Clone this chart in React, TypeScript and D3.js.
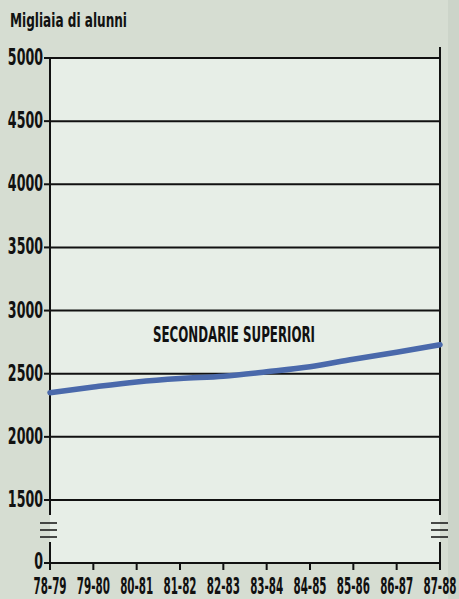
import React from "react";
import * as d3 from "d3";

const categories = ["78-79", "79-80", "80-81", "81-82", "82-83", "83-84", "84-85", "85-86", "86-87", "87-88"];
const values = [2350, 2395, 2435, 2462, 2480, 2515, 2555, 2615, 2670, 2730];
const yTicks = [0, 1500, 2000, 2500, 3000, 3500, 4000, 4500, 5000];
const gridValues = [1500, 2000, 2500, 3000, 3500, 4000, 4500, 5000];
const seriesLabel = "SECONDARIE SUPERIORI";
const title = "Migliaia di alunni";

const W = 459;
const H = 599;
const left = 50;
const right = 440;
const font = "'DejaVu Sans Condensed', 'DejaVu Sans', sans-serif";

export default function App() {
  const x = d3.scalePoint<string>().domain(categories).range([left, right]);
  const y = d3.scaleLinear().domain([0, 1500, 5000]).range([563, 500, 58]);
  const line = d3
    .line<number>()
    .x((_, i) => x(categories[i]) as number)
    .y((d) => y(d))
    .curve(d3.curveMonotoneX);

  const breakYs = [523, 530, 537];
  const y0 = y(0);

  return (
    <svg
      width={W}
      height={H}
      style={{ position: "absolute", left: 0, top: 0 }}
      fontFamily={font}
    >
      <rect x={0} y={0} width={W} height={H} fill="#d6ddd2" />
      <rect x={448} y={0} width={W - 448} height={H} fill="#ccd4c9" />
      <rect x={left} y={y(5000)} width={right - left} height={y0 - y(5000)} fill="#e7eee7" />
      <text x={10} y={27} fontSize={20} fontWeight="bold" textLength={117} lengthAdjust="spacingAndGlyphs" fill="#111">
        {title}
      </text>
      {gridValues.map((v) => (
        <line key={v} x1={left} x2={right} y1={y(v)} y2={y(v)} stroke="#111" strokeWidth={2} />
      ))}
      {/* left axis */}
      <line x1={left} x2={left} y1={y(5000)} y2={515} stroke="#111" strokeWidth={2} />
      <line x1={left} x2={left} y1={542} y2={y0} stroke="#111" strokeWidth={2} />
      {/* right axis */}
      <line x1={right} x2={right} y1={47} y2={515} stroke="#111" strokeWidth={2} />
      <line x1={right} x2={right} y1={542} y2={y0} stroke="#111" strokeWidth={2} />
      {breakYs.map((b) => (
        <g key={b}>
          <line x1={left - 10} x2={left + 7} y1={b} y2={b} stroke="#111" strokeWidth={1.5} />
          <line x1={right - 9} x2={right + 8} y1={b} y2={b} stroke="#111" strokeWidth={1.5} />
        </g>
      ))}
      {/* bottom axis */}
      <line x1={left} x2={right} y1={y0} y2={y0} stroke="#111" strokeWidth={2} />
      {categories.map((c) => (
        <g key={c}>
          <line x1={x(c)} x2={x(c)} y1={y0} y2={y0 + 7} stroke="#111" strokeWidth={2} />
          <text
            transform={`translate(${x(c)},594) scale(0.5,1)`}
            fontSize={23}
            fontWeight="bold"
            textAnchor="middle"
            fill="#111"
          >
            {c}
          </text>
        </g>
      ))}
      {yTicks.map((v) => (
        <g key={v}>
          <line x1={left - 6} x2={left} y1={y(v)} y2={y(v)} stroke="#111" strokeWidth={2} />
          <text
            transform={`translate(43,${y(v) + (v === 0 ? 6 : 7)}) scale(0.61,1)`}
            fontSize={23}
            fontWeight="bold"
            textAnchor="end"
            fill="#111"
          >
            {v}
          </text>
        </g>
      ))}
      <path d={line(values) ?? ""} fill="none" stroke="#4a69ab" strokeWidth={5.5} strokeLinecap="round" />
      <text
        x={234}
        y={342}
        fontSize={21}
        fontWeight="bold"
        textAnchor="middle"
        textLength={162}
        lengthAdjust="spacingAndGlyphs"
        fill="#111"
      >
        {seriesLabel}
      </text>
    </svg>
  );
}
